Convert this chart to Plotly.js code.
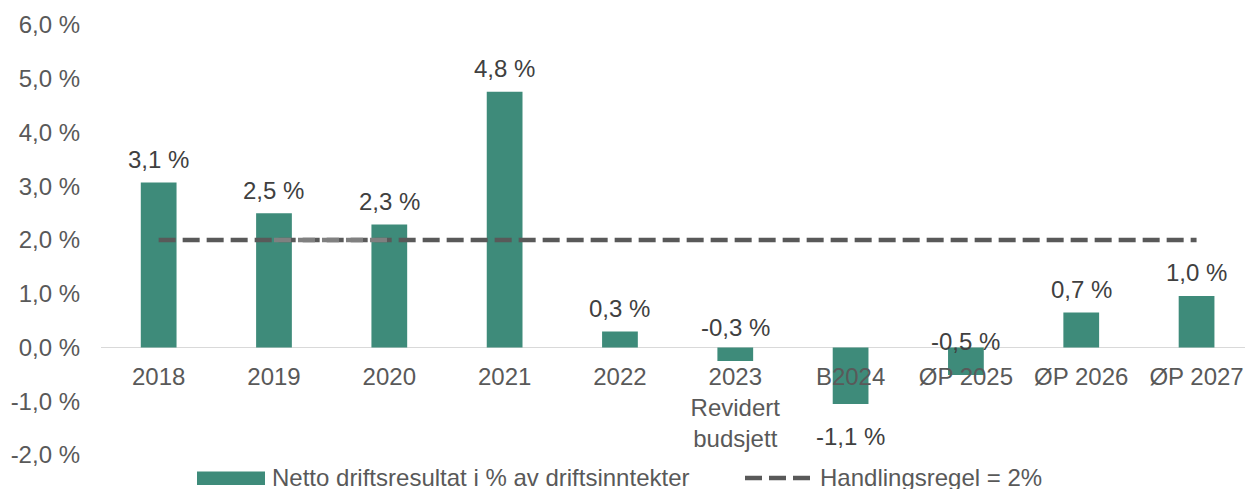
<!DOCTYPE html>
<html>
<head>
<meta charset="utf-8">
<script src="https://cdn.plot.ly/plotly-3.0.1.min.js"></script>
<style>html,body{margin:0;padding:0;background:#fff;}#chart{width:1245px;height:489px;}</style>
</head>
<body>
<div id="chart"></div>
<script>
// ---- data ----
var categories = ['2018', '2019', '2020', '2021', '2022', '2023<br>Revidert<br>budsjett', 'B2024', 'ØP 2025', 'ØP 2026', 'ØP 2027'];
var resultValues = [3.07, 2.50, 2.29, 4.76, 0.30, -0.25, -1.05, -0.51, 0.65, 0.96];
var ruleValues = [2, 2, 2, 2, 2, 2, 2, 2, 2, 2];
var highlightCats = ['2019', '2020'];
var highlightValues = [2, 2];
var yTickVals = [-2, -1, 0, 1, 2, 3, 4, 5, 6];
var yTickText = ['-2,0 %', '-1,0 %', '0,0 %', '1,0 %', '2,0 %', '3,0 %', '4,0 %', '5,0 %', '6,0 %'];
var seriesNames = ['Netto driftsresultat i % av driftsinntekter', 'Handlingsregel = 2%'];

// ---- style ----
var barColor = '#3e8b7a';
var lineColor = '#595959';
var lightLineColor = '#808080';
var tickColor = '#595959';
var labelColor = '#404040';
var fontFam = '"Liberation Sans", Arial, sans-serif';
var fs = 24;
var dashPattern = '17px,7px';
// label placement tweaks (px), as in the reference
var labelShift = {'2023<br>Revidert<br>budsjett': {base: 'zero', shift: 20},
                  'ØP 2025': {base: 'zero', shift: 6},
                  'B2024': {base: 'value', shift: -33}};

function fmt(v) { return v.toFixed(1).replace('.', ',') + ' %'; }

var traces = [
  {type: 'bar', x: categories, y: resultValues, name: seriesNames[0],
   marker: {color: barColor}, showlegend: false, hoverinfo: 'skip'},
  {type: 'scatter', mode: 'lines', x: categories, y: ruleValues, name: seriesNames[1],
   line: {color: lineColor, width: 4.5, dash: dashPattern}, showlegend: false, hoverinfo: 'skip'},
  {type: 'scatter', mode: 'lines', x: highlightCats, y: highlightValues, name: seriesNames[1],
   line: {color: lightLineColor, width: 4.5, dash: dashPattern}, showlegend: false, hoverinfo: 'skip'}
];

var annotations = categories.map(function (c, i) {
  var v = resultValues[i];
  var y = v, shift = 23;
  if (labelShift[c]) {
    y = labelShift[c].base === 'zero' ? 0 : v;
    shift = labelShift[c].shift;
  }
  return {x: i, y: y, xref: 'x', yref: 'y', text: fmt(v), showarrow: false,
          yanchor: 'middle', xanchor: 'center', yshift: shift,
          font: {family: fontFam, size: fs, color: labelColor}};
});

// custom legend (wide bar swatch as in the reference)
var L = 101, W = 1144, T = 25, H = 430;
function px(x) { return (x - L) / W; }
function py(y) { return (T + H - y) / H; }
annotations.push({xref: 'paper', yref: 'paper', x: px(270), y: py(477), xanchor: 'left', yanchor: 'middle',
  text: seriesNames[0], showarrow: false, font: {family: fontFam, size: fs, color: tickColor}});
annotations.push({xref: 'paper', yref: 'paper', x: px(818), y: py(477), xanchor: 'left', yanchor: 'middle',
  text: seriesNames[1], showarrow: false, font: {family: fontFam, size: fs, color: tickColor}});

var shapes = [
  {type: 'rect', xref: 'paper', yref: 'paper', x0: px(197), x1: px(265), y0: py(485), y1: py(471.5),
   fillcolor: barColor, line: {width: 0}},
  {type: 'line', xref: 'paper', yref: 'paper', x0: px(745), x1: px(810), y0: py(478), y1: py(478),
   line: {color: lineColor, width: 4.5, dash: dashPattern}}
];

var layout = {
  width: 1245, height: 489,
  margin: {l: L, r: 0, t: T, b: 489 - T - H, pad: 0},
  paper_bgcolor: '#ffffff', plot_bgcolor: '#ffffff',
  font: {family: fontFam, size: fs, color: tickColor},
  bargap: 0.69,
  showlegend: false,
  xaxis: {type: 'category', range: [-0.5, 9.42], anchor: 'free', position: 0.25,
          showgrid: false, showline: false, zeroline: false, ticks: '',
          ticklabelstandoff: 12, tickfont: {family: fontFam, size: fs, color: tickColor},
          fixedrange: true},
  yaxis: {range: [-2, 6], tickvals: yTickVals, ticktext: yTickText,
          showgrid: false, showline: false, zeroline: true, zerolinecolor: '#d9d9d9', zerolinewidth: 1.5,
          ticks: '', ticklabelstandoff: 20, tickfont: {family: fontFam, size: fs, color: tickColor},
          fixedrange: true},
  annotations: annotations,
  shapes: shapes
};

Plotly.newPlot('chart', traces, layout, {displayModeBar: false, staticPlot: true});
</script>
</body>
</html>
